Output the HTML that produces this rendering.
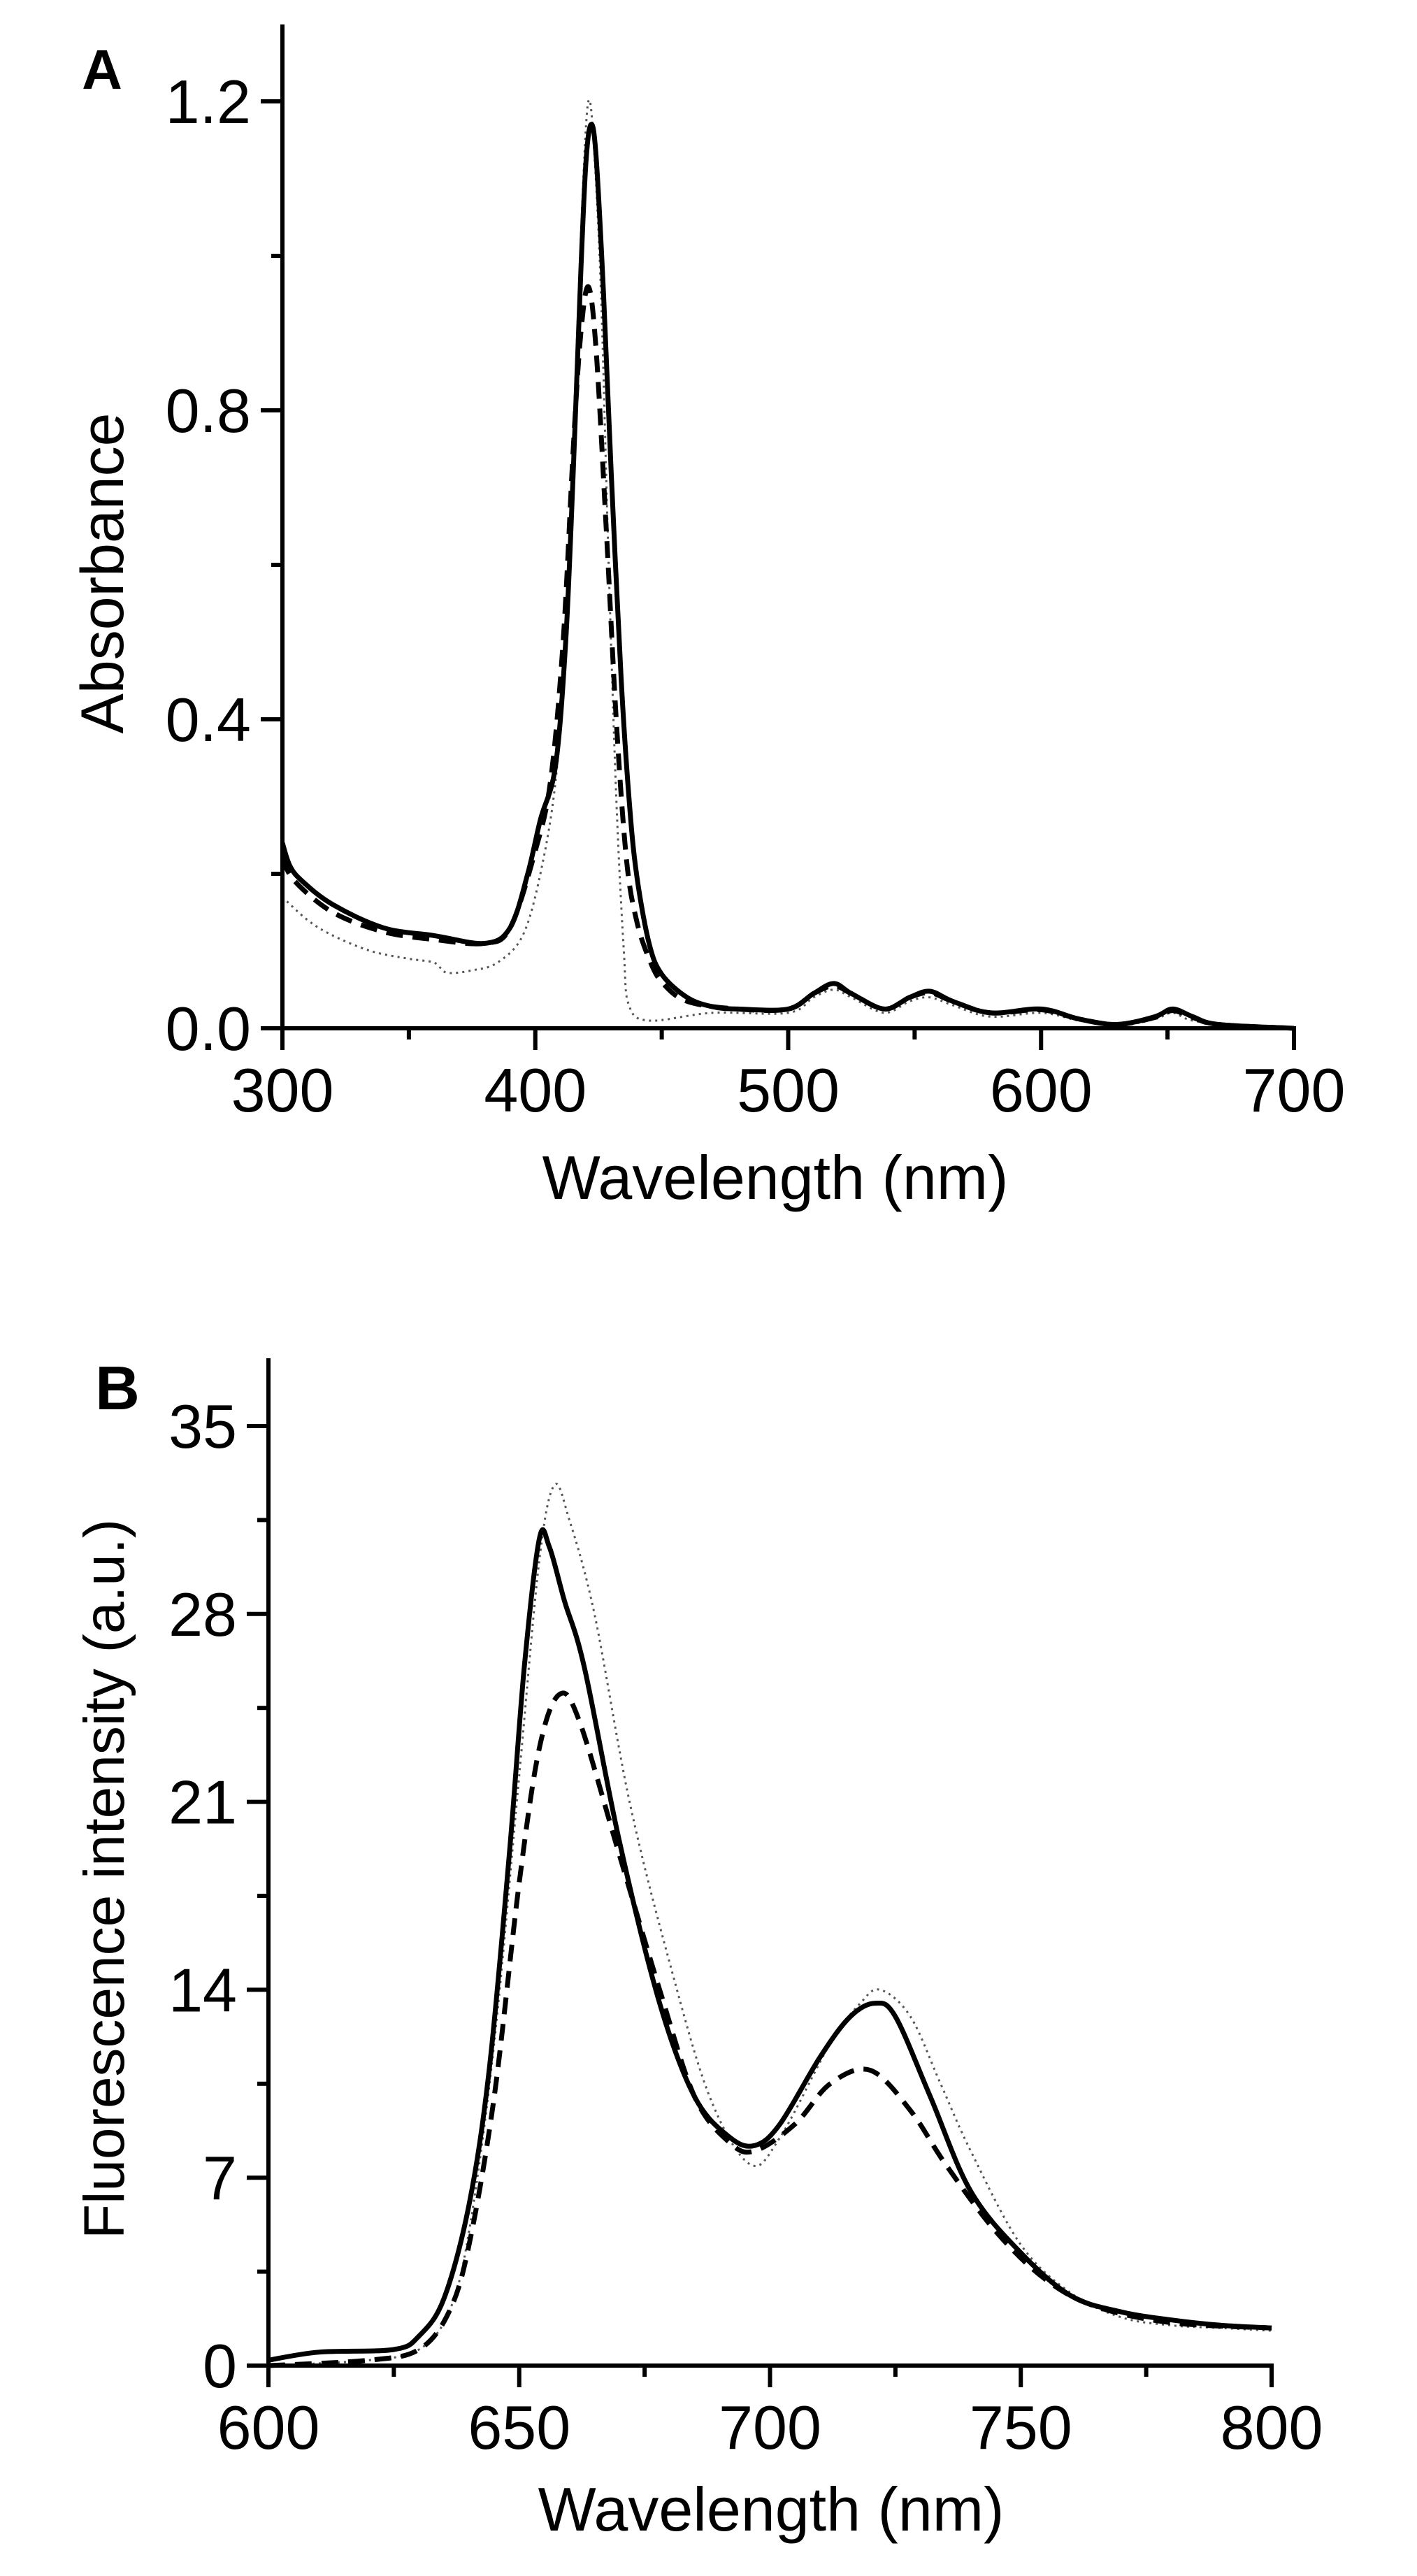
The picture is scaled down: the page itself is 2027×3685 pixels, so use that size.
<!DOCTYPE html>
<html><head><meta charset="utf-8"><style>
html,body{margin:0;padding:0;background:#fff;}
svg{display:block;}
text{font-family:"Liberation Sans",sans-serif;fill:#000;}
</style></head><body>
<svg id="s" width="2027" height="3685" viewBox="0 0 2027 3685" xmlns="http://www.w3.org/2000/svg">
<g id="g"></g>
<text x="146" y="127" font-size="80" font-weight="bold" text-anchor="middle">A</text>
<text x="168" y="2016" font-size="88" font-weight="bold" text-anchor="middle">B</text>
<text transform="translate(176,820) rotate(-90)" font-size="86" text-anchor="middle">Absorbance</text>
<text transform="translate(177,2688) rotate(-90)" font-size="82" text-anchor="middle">Fluorescence intensity (a.u.)</text>
<text x="1109" y="1715" font-size="88" text-anchor="middle">Wavelength (nm)</text>
<text x="1103" y="3620" font-size="88" text-anchor="middle">Wavelength (nm)</text>
</svg>
<script>
var NS="http://www.w3.org/2000/svg",G=document.getElementById('g');
function el(t,a,txt){var e=document.createElementNS(NS,t);for(var k in a)e.setAttribute(k,a[k]);if(txt!==undefined)e.textContent=txt;G.appendChild(e);return e;}
function smooth(p){var d='M'+p[0][0].toFixed(1)+' '+p[0][1].toFixed(1);
 for(var i=0;i<p.length-1;i++){var p0=p[Math.max(0,i-1)],p1=p[i],p2=p[i+1],p3=p[Math.min(p.length-1,i+2)];
  var c1x=p1[0]+(p2[0]-p0[0])/6,c1y=p1[1]+(p2[1]-p0[1])/6,c2x=p2[0]-(p3[0]-p1[0])/6,c2y=p2[1]-(p3[1]-p1[1])/6;
  d+=' C'+c1x.toFixed(1)+' '+c1y.toFixed(1)+' '+c2x.toFixed(1)+' '+c2y.toFixed(1)+' '+p2[0].toFixed(1)+' '+p2[1].toFixed(1);}
 return d;}
function panel(P){
 var X=function(v){return P.x0+(v-P.xmin)/(P.xmax-P.xmin)*(P.x1-P.x0);};
 var Y=function(v){return P.y0-(v-P.ymin)/(P.ymax-P.ymin)*(P.y0-P.y1);};
 P.series.forEach(function(s){
  var d=smooth(s.pts.map(function(p){return [X(p[0]),Y(p[1])];}));
  el('path',{d:d,fill:'none',stroke:s.c,'stroke-width':s.w,'stroke-dasharray':s.da||'none','stroke-linejoin':'round'});
 });
 el('line',{x1:P.x0,y1:P.top,x2:P.x0,y2:P.y0+3,stroke:'#000','stroke-width':6});
 el('line',{x1:P.x0-3,y1:P.y0,x2:P.x1+3,y2:P.y0,stroke:'#000','stroke-width':6});
 for(var v=P.xmin;v<=P.xmax+1e-9;v+=P.xminor){var maj=Math.abs(((v-P.xmin)/P.xmajor)-Math.round((v-P.xmin)/P.xmajor))<1e-6;
  el('line',{x1:X(v),y1:P.y0,x2:X(v),y2:P.y0+(maj?31:16),stroke:'#000','stroke-width':6});
  if(maj)el('text',{x:X(v),y:P.y0+119,'font-size':88,'text-anchor':'middle'},P.xfmt(v));}
 for(var v=P.ymin;v<=P.ymax+1e-9;v+=P.yminor){var maj=Math.abs(((v-P.ymin)/P.ymajor)-Math.round((v-P.ymin)/P.ymajor))<1e-6;
  el('line',{x1:P.x0,y1:Y(v),x2:P.x0-(maj?31:16),y2:Y(v),stroke:'#000','stroke-width':6});
  if(maj)el('text',{x:P.x0-45,y:Y(v)+31,'font-size':88,'text-anchor':'end'},P.yfmt(v));}
}
panel({x0:404,x1:1851,xmin:300,xmax:700,y0:1471,y1:145,ymin:0,ymax:1.2,top:35,xmajor:100,xminor:50,ymajor:0.4,yminor:0.2,
 xfmt:function(v){return Math.round(v)+'';},yfmt:function(v){return v.toFixed(1);},
 series:[
 {c:'#555',w:3,da:'3 6',pts:[[300,0.17],[310,0.14],[320,0.12],[335,0.1],[350,0.09],[360,0.085],[365,0.072],[375,0.075],[385,0.085],[395,0.12],[402,0.2],[408,0.32],[412,0.5],[416,0.85],[419,1.1],[421,1.2],[423,1.15],[426,0.95],[429,0.6],[432,0.3],[435,0.1],[437,0.03],[445,0.01],[470,0.02],[500,0.02],[510,0.04],[518,0.05],[525,0.04],[538,0.02],[548,0.035],[556,0.04],[565,0.03],[580,0.015],[600,0.02],[615,0.01],[630,0.003],[645,0.012],[652,0.02],[660,0.01],[680,0.002],[700,0]]},
 {c:'#000',w:7,da:'24 14',pts:[[300,0.22],[305,0.19],[320,0.15],[340,0.125],[360,0.115],[380,0.11],[390,0.13],[400,0.23],[406,0.32],[411,0.5],[415,0.75],[418,0.9],[421,0.96],[424,0.88],[428,0.65],[432,0.4],[436,0.22],[440,0.14],[445,0.09],[450,0.06],[460,0.035],[480,0.025],[500,0.025],[510,0.045],[518,0.055],[525,0.045],[538,0.025],[548,0.04],[556,0.046],[565,0.035],[580,0.02],[600,0.024],[615,0.012],[630,0.005],[645,0.014],[652,0.023],[660,0.014],[670,0.005],[700,0]]},
 {c:'#000',w:7,pts:[[300,0.24],[303,0.21],[308,0.19],[320,0.16],[340,0.13],[360,0.12],[380,0.11],[390,0.13],[397,0.2],[402,0.27],[408,0.34],[412,0.5],[415,0.72],[418,0.98],[420,1.12],[422,1.17],[424,1.13],[427,0.95],[430,0.72],[434,0.45],[437,0.3],[440,0.2],[445,0.11],[450,0.07],[460,0.04],[470,0.028],[480,0.025],[500,0.025],[510,0.045],[518,0.058],[525,0.045],[538,0.025],[548,0.04],[556,0.048],[565,0.035],[580,0.02],[600,0.025],[615,0.012],[630,0.005],[645,0.015],[652,0.025],[660,0.015],[670,0.005],[700,0.0]]}
 ]});
panel({x0:384,x1:1819,xmin:600,xmax:800,y0:3384,y1:2040,ymin:0,ymax:35,top:1943,xmajor:50,xminor:25,ymajor:7,yminor:3.5,
 xfmt:function(v){return Math.round(v)+'';},yfmt:function(v){return Math.round(v)+'';},
 series:[
 {c:'#555',w:3,da:'3 6',pts:[[600,0],[620,0.2],[630,0.6],[636,2],[640,5],[645,12],[650,22],[654,30],[657,32.8],[660,31.5],[665,28],[672,21],[680,15],[688,10],[696,7.5],[702,8.5],[712,12],[718,13.5],[722,14],[728,13],[734,10.5],[740,8],[750,4.5],[760,2.7],[770,1.8],[780,1.5],[790,1.4],[800,1.3]]},
 {c:'#000',w:7,da:'24 14',pts:[[600,0],[620,0.2],[630,0.6],[636,2],[640,4.5],[645,10],[650,18],[654,23],[658,25],[662,24],[670,19],[678,14],[685,10],[692,8.3],[697,8],[705,9],[712,10.5],[720,11],[728,9.5],[735,7.5],[745,5],[755,3.2],[765,2.2],[780,1.6],[800,1.4]]},
 {c:'#000',w:7,pts:[[600,0.2],[610,0.5],[625,0.6],[630,1.1],[635,2.5],[640,6],[644,11],[648,19],[651,26],[654,30.8],[656,30.5],[659,28.5],[663,26],[670,19.5],[678,13.5],[685,10],[692,8.5],[697,8.2],[702,9],[710,11.5],[716,13],[721,13.5],[725,13],[732,10],[740,6.5],[750,4.2],[760,2.6],[770,2],[780,1.7],[790,1.5],[800,1.4]]}
 ]});
</script>
</body></html>
